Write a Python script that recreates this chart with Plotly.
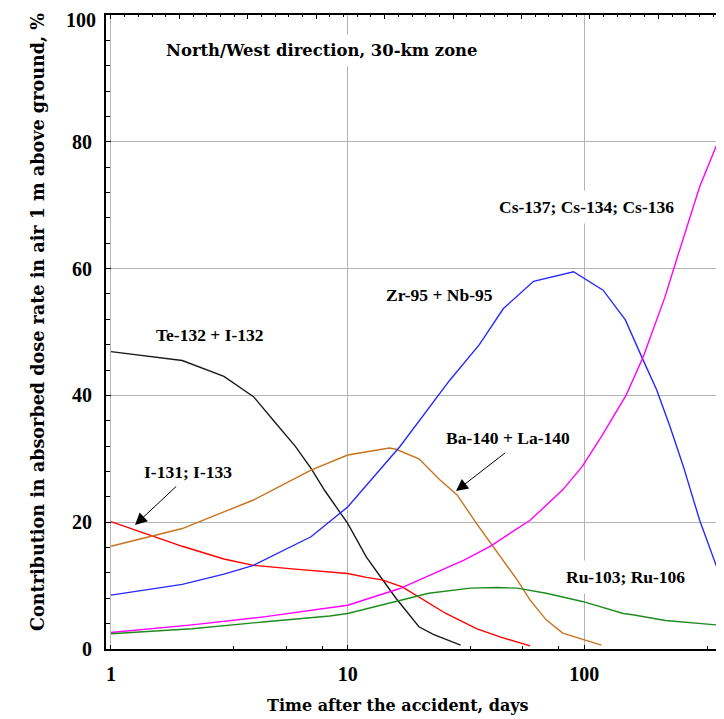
import plotly.graph_objects as go

# ---- data ----
te_x = [1, 2, 3, 4, 5, 6, 7, 8, 10, 12, 14, 16, 20, 23, 30]
te_y = [46.9, 45.5, 43.0, 39.8, 35.5, 32.0, 28.5, 25.0, 19.8, 14.5, 11.0, 8.0, 3.5, 2.3, 0.6]

i_x = [1, 2, 3, 4, 6, 10, 12, 14, 17, 21, 26, 35, 44, 59]
i_y = [20.1, 16.2, 14.2, 13.2, 12.6, 11.9, 11.3, 10.9, 9.8, 7.7, 5.6, 3.2, 1.9, 0.5]

ba_x = [1, 2, 4, 7, 10, 15, 16, 20, 24.5, 29, 35, 43, 52, 59, 69, 81, 98, 118]
ba_y = [16.2, 19.0, 23.5, 28.2, 30.6, 31.7, 31.5, 30.0, 26.7, 24.3, 19.8, 15.1, 10.9, 7.7, 4.6, 2.5, 1.5, 0.6]

zr_x = [1, 2, 3, 4, 7, 10, 16.6, 27, 36, 45.5, 61, 90, 120, 149, 177, 202, 230, 262, 307, 362]
zr_y = [8.5, 10.2, 11.8, 13.2, 17.7, 22.4, 31.9, 42.4, 48.0, 53.7, 58.0, 59.5, 56.6, 51.9, 45.6, 40.9, 35.1, 28.8, 20.3, 13.0]

cs_x = [1, 2.2, 4.5, 10, 16.5, 31, 40, 59, 81, 98, 118, 150, 177, 219, 240, 307, 367]
cs_y = [2.6, 3.8, 5.1, 6.9, 9.5, 14.0, 16.2, 20.3, 25.1, 28.8, 33.5, 40.0, 46.0, 55.5, 60.3, 72.9, 80.0]

ru_x = [1, 2.2, 4.5, 8.4, 10, 13.7, 22, 33, 43, 52, 69, 98, 116, 146, 160, 220, 362]
ru_y = [2.4, 3.2, 4.3, 5.2, 5.6, 6.9, 8.8, 9.6, 9.7, 9.6, 8.8, 7.5, 6.7, 5.6, 5.4, 4.5, 3.8]

x_ticks = [1, 10, 100]
x_ticktext = ["1", "10", "100"]
y_ticks = [0, 20, 40, 60, 80, 100]
y_ticktext = ["0", "20", "40", "60", "80", ""]   # top label "100" drawn separately below
y_top_label = "100"

series = [
    ("Te-132 + I-132", te_x, te_y, "#1a1a1a"),
    ("I-131; I-133", i_x, i_y, "#ff0000"),
    ("Ba-140 + La-140", ba_x, ba_y, "#c8731e"),
    ("Zr-95 + Nb-95", zr_x, zr_y, "#2828ff"),
    ("Cs-137; Cs-134; Cs-136", cs_x, cs_y, "#ff00ff"),
    ("Ru-103; Ru-106", ru_x, ru_y, "#1e8c1e"),
]

# ---- layout geometry (page body has an 8px margin) ----
OFF = 8
W, H = 724, 719
PL, PR, PT, PB = 106, 724, 15, 649          # plot area in screenshot pixels
L, T = PL - OFF, PT - OFF
R = W - (PR - OFF)
B = H - (PB - OFF)
pw, ph = PR - PL, PB - PT

def px2paper(px, py):
    return (px - PL) / pw, (PB - py) / ph

fig = go.Figure()
for name, xs, ys, col in series:
    fig.add_trace(go.Scatter(x=xs, y=ys, mode="lines", name=name,
                             line=dict(color=col, width=1.4), showlegend=False))

# helper invisible traces so the overlay axes are drawn
fig.add_trace(go.Scatter(x=[0], y=[0], xaxis="x2", yaxis="y", mode="markers",
                         marker=dict(opacity=0), showlegend=False, hoverinfo="skip"))
fig.add_trace(go.Scatter(x=[1], y=[0], xaxis="x", yaxis="y2", mode="markers",
                         marker=dict(opacity=0), showlegend=False, hoverinfo="skip"))

tickfont = dict(family="Liberation Serif", size=20, color="black", weight="bold")
labfont = dict(family="Liberation Serif", size=17.5, color="black", weight="bold")

fig.update_layout(
    width=W, height=H,
    margin=dict(l=L, r=R, t=T, b=B, autoexpand=False),
    paper_bgcolor="white", plot_bgcolor="white",
    xaxis=dict(type="log", range=[-0.0211, 2.590], tickmode="array",
               tickvals=x_ticks, ticktext=x_ticktext,
               ticks="inside", ticklen=4, tickcolor="black",
               showgrid=True, gridcolor="#b4b4b4", gridwidth=1,
               showline=True, linecolor="black", linewidth=2,
               zeroline=False, tickfont=tickfont, ticklabelstandoff=6,
               ticklabeloverflow="allow", automargin=False,
               minor=dict(tickmode="array",
                          tickvals=[3.3, 5.5, 7.8, 33, 55, 78, 330],
                          ticks="inside", ticklen=3, tickcolor="black",
                          showgrid=False)),
    xaxis2=dict(overlaying="x", side="top", anchor="y", range=[-0.073, 8.96],
                tick0=0, dtick=1, ticks="inside", ticklen=4, tickcolor="black",
                showticklabels=False, showgrid=False, zeroline=False,
                showline=True, linecolor="black", linewidth=2, automargin=False,
                minor=dict(dtick=0.2, tick0=0, ticks="inside", ticklen=2,
                           tickcolor="black", showgrid=False)),
    yaxis=dict(range=[0, 100], tickmode="array", tickvals=y_ticks,
               ticktext=y_ticktext,
               ticks="inside", ticklen=5, tickcolor="black",
               showgrid=True, gridcolor="#b4b4b4", gridwidth=1,
               showline=True, linecolor="black", linewidth=2,
               zeroline=False, tickfont=tickfont, ticklabelstandoff=8,
               ticklabeloverflow="allow", automargin=False,
               minor=dict(dtick=4, tick0=0, ticks="inside", ticklen=4,
                          tickcolor="black", showgrid=False)),
    yaxis2=dict(overlaying="y", side="right", anchor="x", range=[0, 7],
                tick0=0, dtick=1, ticks="inside", ticklen=4, tickcolor="black",
                tickwidth=1, showticklabels=False, showgrid=False,
                zeroline=False, showline=False, automargin=False),
)

ann = []
def text_ann(text, px, py, font, bg=True):
    xp, yp = px2paper(px, py)
    ann.append(dict(text=text, x=xp, y=yp, xref="paper", yref="paper",
                    showarrow=False, xanchor="center", yanchor="middle",
                    font=font, bgcolor="white" if bg else None, borderpad=6))

# top y tick label, kept inside the page
xp, yp = px2paper(97, OFF)
ann.append(dict(text=y_top_label, x=xp, y=yp, xref="paper", yref="paper",
                showarrow=False, xanchor="right", yanchor="top",
                font=tickfont, borderpad=0))

text_ann("North/West direction, 30-km zone", 321.7, 51,
         dict(family="DejaVu Serif", size=16.4, color="black", weight="bold"))
text_ann("Te-132 + I-132", 210, 335, labfont)
text_ann("I-131; I-133", 187.5, 472, labfont)
text_ann("Ba-140 + La-140", 508, 438, labfont)
text_ann("Ru-103; Ru-106", 625, 577, labfont)
text_ann("Zr-95 + Nb-95", 439, 295, labfont)
text_ann("Cs-137; Cs-134; Cs-136", 586, 207, labfont)

# arrows
for tipx, tipy, tailx, taily in [(135, 525, 177.7, 485), (456, 491, 506.7, 451.7)]:
    xp, yp = px2paper(tipx, tipy)
    ann.append(dict(text="", x=xp, y=yp, xref="paper", yref="paper",
                    ax=tailx - tipx, ay=taily - tipy, showarrow=True,
                    arrowhead=2, arrowsize=2.4, arrowwidth=1, arrowcolor="black"))

# axis titles
xp, yp = px2paper(398, 706)
ann.append(dict(text="Time after the accident, days", x=xp, y=yp,
                xref="paper", yref="paper", showarrow=False,
                xanchor="center", yanchor="middle",
                font=dict(family="DejaVu Serif", size=16, color="black", weight="bold")))
xp, yp = px2paper(37, 322)
ann.append(dict(text="Contribution in absorbed dose rate in air 1 m above ground, %",
                x=xp, y=yp, xref="paper", yref="paper", showarrow=False,
                textangle=-90, xanchor="center", yanchor="middle",
                font=dict(family="DejaVu Serif", size=17.6, color="black", weight="bold")))

fig.update_layout(annotations=ann)
fig.write_html("out.html")
